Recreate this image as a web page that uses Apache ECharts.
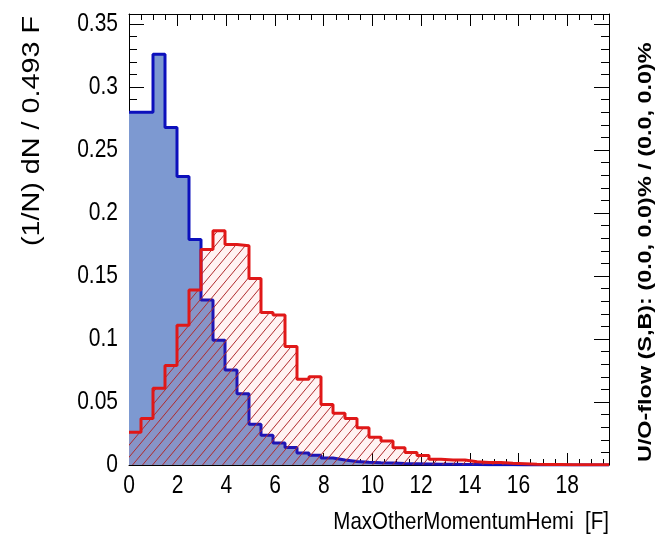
<!DOCTYPE html>
<html>
<head>
<meta charset="utf-8">
<script src="https://cdn.jsdelivr.net/npm/echarts@6/dist/echarts.min.js"></script>
<style>
  html, body { margin: 0; padding: 0; background: #fff; }
  #chart { width: 669px; height: 542px; }
</style>
</head>
<body>
<div id="chart"></div>
<script>
// Binning of the variable: 40 bins of 0.493 F starting at 0
const binWidth = 0.493;
const nBins = 40;

// Normalised bin contents (1/N dN per bin) for signal (S) and background (B)
const signalValues = [
  0.280, 0.280, 0.326, 0.268, 0.229, 0.179, 0.131, 0.099, 0.0755, 0.0566,
  0.0324, 0.0237, 0.0175, 0.0138, 0.0096, 0.0078, 0.0055, 0.0040, 0.0028, 0.0022,
  0.0018, 0.0015, 0.0012, 0.0010, 0.0008, 0.0006, 0.0005, 0.0004, 0.0003, 0.0002,
  0.0002, 0.0001, 0, 0, 0, 0, 0, 0, 0, 0
];
const backgroundValues = [
  0.026, 0.037, 0.061, 0.079, 0.111, 0.139, 0.171, 0.186, 0.175, 0.174,
  0.148, 0.121, 0.119, 0.094, 0.068, 0.070, 0.048, 0.041, 0.037, 0.0296,
  0.022, 0.019, 0.0137, 0.010, 0.0075, 0.0045, 0.0040, 0.0040, 0.0026, 0.0020,
  0.0020, 0.0013, 0.0010, 0.0006, 0.0004, 0.0003, 0.0002, 0.0002, 0.0001, 0.0001
];

// Axis tick labels
const xTickLabels = ['0', '2', '4', '6', '8', '10', '12', '14', '16', '18'];
const yTickLabels = ['0', '0.05', '0.1', '0.15', '0.2', '0.25', '0.3', '0.35'];

const xTitle = 'MaxOtherMomentumHemi  [F]';
const yTitle = '(1/N) dN / 0.493 F';
const flowText = 'U/O-flow (S,B): (0.0, 0.0)% / (0.0, 0.0)%';

const xMax = binWidth * nBins;
const yMax = 0.358;

// Step outline points: one point at each bin's left edge, plus the closing right edge
function stepPoints(values) {
  const pts = values.map((v, i) => [i * binWidth, v]);
  pts.push([nBins * binWidth, values[values.length - 1]]);
  return pts;
}

// Diagonal hatch tile for the background histogram
function hatchTile() {
  const w = 10, h = 12;
  const c = document.createElement('canvas');
  c.width = w; c.height = h;
  const g = c.getContext('2d');
  g.fillStyle = 'rgba(255,90,90,0.08)';
  g.fillRect(0, 0, w, h);
  g.strokeStyle = '#b02a2c';
  g.lineWidth = 1;
  g.beginPath();
  for (let k = -1; k <= 1; k++) {
    g.moveTo(k * w, h);
    g.lineTo(k * w + w, 0);
  }
  g.stroke();
  return c;
}

const font = 'Liberation Sans, Arial, Helvetica, sans-serif';
const gridBox = { left: 129, right: 60, top: 14, bottom: 77 };
const stretch = 1.2;

function xAxisDef(bottom) {
  return {
    type: 'value', min: 0, max: xMax, interval: 2,
    position: bottom ? 'bottom' : 'top',
    axisLine: { show: true, onZero: false, lineStyle: { color: '#000', width: 1 } },
    axisTick: { show: true, inside: true, length: 12, lineStyle: { color: '#000', width: 1 } },
    minorTick: { show: true, splitNumber: 4, length: 6, lineStyle: { color: '#000', width: 1 } },
    axisLabel: { show: false },
    splitLine: { show: false }
  };
}

function yAxisDef(left) {
  return {
    type: 'value', min: 0, max: yMax, interval: 0.05,
    position: left ? 'left' : 'right',
    axisLine: { show: true, onZero: false, lineStyle: { color: '#000', width: 1 } },
    axisTick: { show: true, inside: true, length: 15, lineStyle: { color: '#000', width: 1 } },
    minorTick: { show: true, splitNumber: 5, length: 8, lineStyle: { color: '#000', width: 1 } },
    axisLabel: { show: false },
    splitLine: { show: false }
  };
}

const chart = echarts.init(document.getElementById('chart'), null, { renderer: 'canvas' });

chart.setOption({
  animation: false,
  backgroundColor: '#fff',
  grid: gridBox,
  xAxis: [xAxisDef(true), xAxisDef(false)],
  yAxis: [yAxisDef(true), yAxisDef(false)],
  series: [
    {
      name: 'Signal', type: 'line', step: 'end',
      xAxisIndex: 0, yAxisIndex: 0,
      data: stepPoints(signalValues),
      symbol: 'none',
      lineStyle: { color: '#0c10bc', width: 3 },
      areaStyle: { color: '#7d99d1', opacity: 1 },
      z: 2
    },
    {
      name: 'Background', type: 'line', step: 'end',
      xAxisIndex: 0, yAxisIndex: 0,
      data: stepPoints(backgroundValues),
      symbol: 'none',
      lineStyle: { color: '#e01818', width: 3 },
      areaStyle: { color: { image: hatchTile(), repeat: 'repeat' }, opacity: 1 },
      z: 3
    }
  ]
});

// Tick labels placed through the axes' own value-to-pixel mapping
const xAxisPixelY = chart.convertToPixel({ yAxisIndex: 0 }, 0);
const yAxisPixelX = chart.convertToPixel({ xAxisIndex: 0 }, 0);
const labelFont = '21px ' + font;

const graphics = [];
xTickLabels.forEach(function (t) {
  graphics.push({
    type: 'text', x: chart.convertToPixel({ xAxisIndex: 0 }, Number(t)), y: xAxisPixelY + 8,
    scaleY: stretch, z: 10,
    style: { text: t, font: labelFont, fill: '#000', align: 'center', verticalAlign: 'top' }
  });
});
yTickLabels.forEach(function (t) {
  graphics.push({
    type: 'text', x: yAxisPixelX - 11, y: chart.convertToPixel({ yAxisIndex: 0 }, Number(t)),
    scaleY: stretch, z: 10,
    style: { text: t, font: labelFont, fill: '#000', align: 'right', verticalAlign: 'middle' }
  });
});

const plotRight = chart.convertToPixel({ xAxisIndex: 0 }, xMax);

graphics.push(
  {
    type: 'text', x: 33, y: 16, rotation: Math.PI / 2, scaleX: 1.25, z: 10,
    style: { text: yTitle, font: '23px ' + font, fill: '#000', align: 'right', verticalAlign: 'middle' }
  },
  {
    type: 'text', x: plotRight, y: 522, scaleY: stretch, z: 10,
    style: { text: xTitle, font: '20.5px ' + font, fill: '#000', align: 'right', verticalAlign: 'middle' }
  },
  {
    type: 'text', x: plotRight + 37, y: 462, rotation: Math.PI / 2, scaleX: 1.23, z: 10,
    style: { text: flowText, font: 'bold 19px ' + font, fill: '#000', align: 'left', verticalAlign: 'middle' }
  }
);

chart.setOption({ graphic: graphics });
</script>
</body>
</html>
